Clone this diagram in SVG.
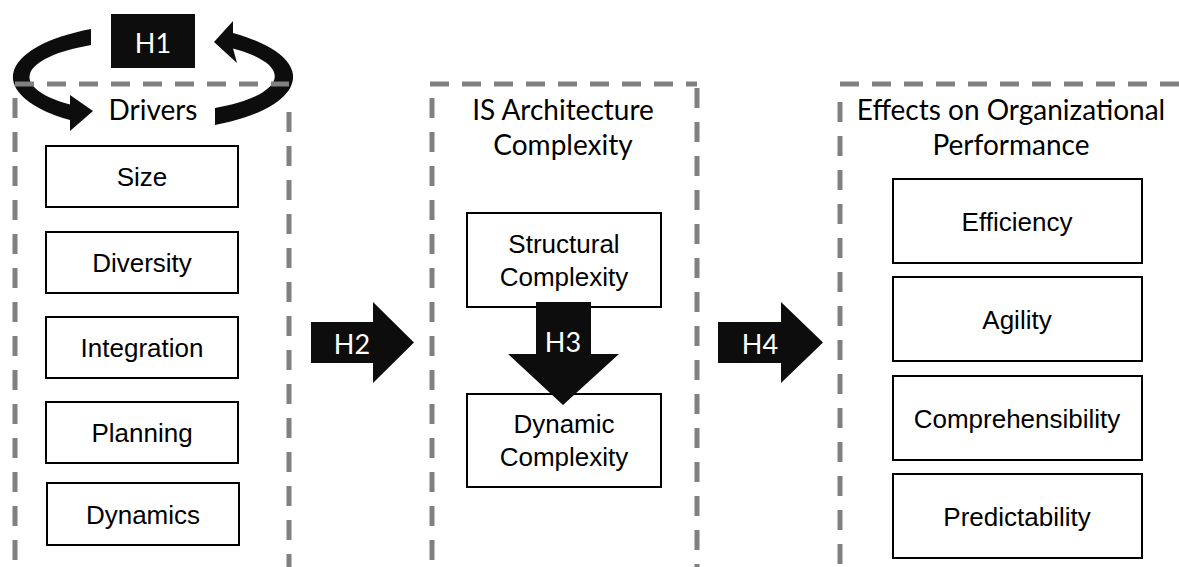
<svg xmlns="http://www.w3.org/2000/svg" width="1179" height="567" viewBox="0 0 1179 567">
  <style>
    .frame { fill: none; stroke: #808080; stroke-width: 5; }
    .frame-h { stroke-dasharray: 19 13; }
    .frame-v { stroke-dasharray: 20 14; }
    .title { font-family: Lato, "Open Sans", sans-serif; font-size: 28px; fill: #000; text-anchor: middle; }
    .box rect { fill: #fff; stroke: #000; stroke-width: 2; }
    .box text { font-family: "Liberation Sans", Arial, sans-serif; font-size: 26px; fill: #000; text-anchor: middle; }
    .arrow { fill: #0d0d0d; }
    .hlabel { font-family: Lato, "Open Sans", sans-serif; font-size: 27px; fill: #fff; text-anchor: middle; }
  </style>

  <rect width="1179" height="567" fill="#fff"/>

  <!-- H1 loop: two curved arrows around the drivers heading -->
  <g id="connectors">
    <g id="h1-loop">
      <path class="arrow" d="M 91 29 A 140 53.5 0 0 0 70 120.1 L 70 131 L 93 111 L 70 95 L 70 104.5 A 123 37 0 0 1 91 45 Z"/>
      <path class="arrow" d="M 215 125 A 140 53.5 0 0 0 233 33.1 L 233 21 L 214 42 L 237 63 L 233 48.5 A 123 37 0 0 1 215 108 Z"/>
      <rect class="arrow" x="111" y="14" width="84" height="54"/>
      <text class="hlabel" x="153" y="53">H1</text>
    </g>
  </g>

  <!-- Drivers -->
  <g id="drivers">
    <line class="frame frame-h" x1="15" y1="84" x2="289" y2="84"/>
    <line class="frame frame-v" x1="15" y1="98" x2="15" y2="567"/>
    <line class="frame frame-v" x1="289" y1="112" x2="289" y2="567"/>
    <text class="title" x="153" y="120">Drivers</text>
  </g>
  <g id="size" class="box">
    <rect x="46" y="146" width="192" height="61"/>
    <text x="142" y="186">Size</text>
  </g>
  <g id="diversity" class="box">
    <rect x="46" y="232" width="192" height="61"/>
    <text x="142" y="272">Diversity</text>
  </g>
  <g id="integration" class="box">
    <rect x="46" y="317" width="192" height="61"/>
    <text x="142" y="357">Integration</text>
  </g>
  <g id="planning" class="box">
    <rect x="46" y="402" width="192" height="61"/>
    <text x="142" y="442">Planning</text>
  </g>
  <g id="dynamics" class="box">
    <rect x="47" y="483" width="192" height="62"/>
    <text x="143" y="524">Dynamics</text>
  </g>

  <!-- IS Architecture Complexity -->
  <g id="is-architecture">
    <line class="frame frame-h" x1="430" y1="84" x2="697" y2="84"/>
    <line class="frame frame-v" x1="432" y1="98" x2="432" y2="567"/>
    <line class="frame frame-v" x1="697" y1="88" x2="697" y2="567"/>
    <text class="title" x="563" y="120">IS Architecture</text>
    <text class="title" x="563" y="155">Complexity</text>
  </g>
  <g id="structural" class="box">
    <rect x="467" y="213" width="194" height="94"/>
    <text x="564" y="253">Structural</text>
    <text x="564" y="286">Complexity</text>
  </g>
  <g id="dynamic" class="box">
    <rect x="467" y="394" width="194" height="93"/>
    <text x="564" y="433">Dynamic</text>
    <text x="564" y="466">Complexity</text>
  </g>

  <!-- Effects on Organizational Performance -->
  <g id="effects">
    <line class="frame frame-h" x1="840" y1="84" x2="1179" y2="84"/>
    <line class="frame frame-v" x1="840" y1="102" x2="840" y2="567"/>
    <text class="title" x="1011" y="120">Effects on Organizational</text>
    <text class="title" x="1011" y="155">Performance</text>
  </g>
  <g id="efficiency" class="box">
    <rect x="893" y="179" width="249" height="84"/>
    <text x="1017" y="231">Efficiency</text>
  </g>
  <g id="agility" class="box">
    <rect x="893" y="277" width="249" height="84"/>
    <text x="1017" y="329">Agility</text>
  </g>
  <g id="comprehensibility" class="box">
    <rect x="893" y="376" width="249" height="84"/>
    <text x="1017" y="428">Comprehensibility</text>
  </g>
  <g id="predictability" class="box">
    <rect x="893" y="474" width="249" height="84"/>
    <text x="1017" y="526">Predictability</text>
  </g>

  <!-- Block arrows between stages -->
  <g id="block-arrows">
    <g id="h2">
      <polygon class="arrow" points="311,322 373,322 373,302 414,342.5 373,383 373,363 311,363"/>
      <text class="hlabel" x="352" y="354">H2</text>
    </g>
    <g id="h3">
      <polygon class="arrow" points="536,302 591,302 591,354 619,354 563,405 508,354 536,354"/>
      <text class="hlabel" x="563" y="352">H3</text>
    </g>
    <g id="h4">
      <polygon class="arrow" points="718,322 781,322 781,302 823,342.5 781,383 781,363 718,363"/>
      <text class="hlabel" x="760" y="354">H4</text>
    </g>
  </g>
</svg>
